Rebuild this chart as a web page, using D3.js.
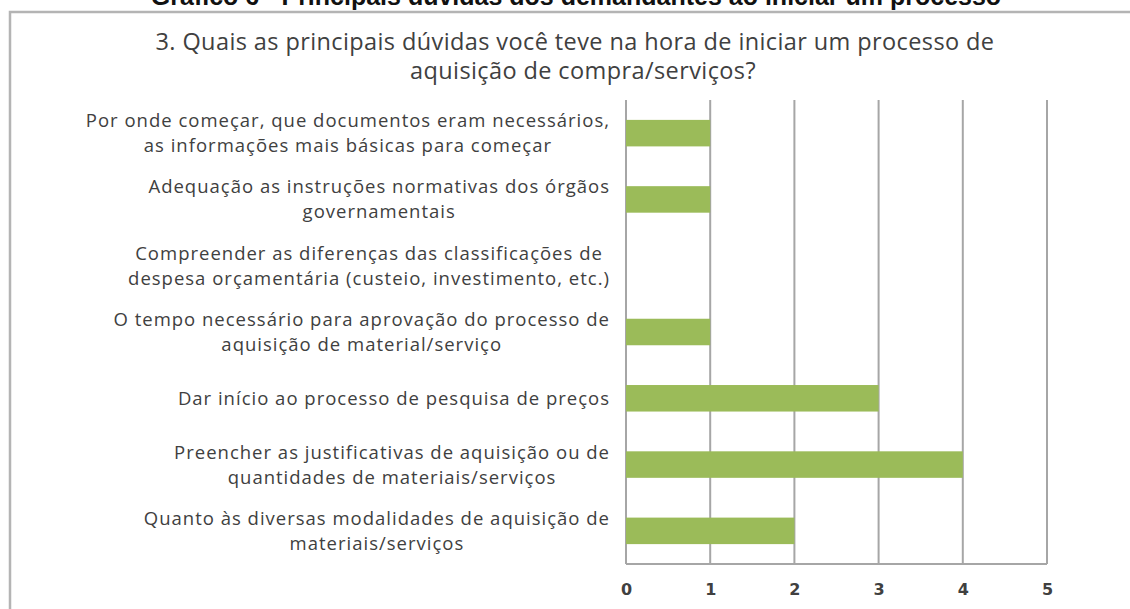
<!DOCTYPE html>
<html>
<head>
<meta charset="utf-8">
<script src="https://cdn.jsdelivr.net/npm/d3@7"></script>
<style>
  body { margin: 0; background: #fff; }
  svg { display: block; }
</style>
</head>
<body>
<script>
// chart data
const categories = [
  ["Por onde começar, que documentos eram necessários,", "as informações mais básicas para começar"],
  ["Adequação as instruções normativas dos órgãos", "governamentais"],
  ["Compreender as diferenças das classificações de", "despesa orçamentária (custeio, investimento, etc.)"],
  ["O tempo necessário para aprovação do processo de", "aquisição de material/serviço"],
  ["Dar início ao processo de pesquisa de preços"],
  ["Preencher as justificativas de aquisição ou de", "quantidades de materiais/serviços"],
  ["Quanto às diversas modalidades de aquisição de", "materiais/serviços"]
];
const values = [1, 1, 0, 1, 3, 4, 2];
const xTicks = [0, 1, 2, 3, 4, 5];
const caption = "Gráfico 6 - Principais dúvidas dos demandantes ao iniciar um processo";
const titleLines = [
  "3. Quais as principais dúvidas você teve na hora de iniciar um processo de",
  "aquisição de compra/serviços?"
];

const width = 1130, height = 609;
const margin = {left: 626, right: 83, top: 100, bottom: 45};
const barColor = "#9bbb59";
const gridColor = "#a6a6a6";
const textColor = "#404040";

const svg = d3.select("body").append("svg")
  .attr("width", width)
  .attr("height", height);

// outer frame of the chart object
svg.append("rect")
  .attr("x", 10).attr("y", 12)
  .attr("width", 1140).attr("height", 700)
  .attr("fill", "none")
  .attr("stroke", "#b4b4b4")
  .attr("stroke-width", 2.5);

// document caption, cut at the top like in the scan
svg.append("text")
  .attr("x", 576).attr("y", 5)
  .attr("text-anchor", "middle")
  .attr("font-family", "Liberation Sans, Arial, sans-serif")
  .attr("font-weight", "bold")
  .attr("font-size", 25)
  .attr("fill", "#111")
  .text(caption);

// chart title
svg.append("g").selectAll("text")
  .data(titleLines)
  .join("text")
  .attr("x", (d, i) => i === 0 ? 575 : 583)
  .attr("y", (d, i) => 50 + i * 29)
  .attr("text-anchor", "middle")
  .attr("font-family", "Open Sans, sans-serif")
  .attr("font-size", 23.5)
  .attr("letter-spacing", 0.4)
  .attr("fill", textColor)
  .text(d => d);

const x = d3.scaleLinear()
  .domain([0, 5])
  .range([margin.left, width - margin.right]);

const y = d3.scaleBand()
  .domain(d3.range(categories.length))
  .range([margin.top, height - margin.bottom])
  .paddingInner(0.6)
  .paddingOuter(0.3);

// vertical gridlines
svg.append("g").selectAll("line")
  .data(xTicks)
  .join("line")
  .attr("x1", d => x(d)).attr("x2", d => x(d))
  .attr("y1", margin.top).attr("y2", height - margin.bottom)
  .attr("stroke", gridColor)
  .attr("stroke-width", 2);

// bottom line of plot area
svg.append("line")
  .attr("x1", x(0)).attr("x2", x(5))
  .attr("y1", height - margin.bottom).attr("y2", height - margin.bottom)
  .attr("stroke", gridColor)
  .attr("stroke-width", 2);

// bars
svg.append("g").selectAll("rect")
  .data(values)
  .join("rect")
  .attr("x", x(0))
  .attr("y", (d, i) => y(i))
  .attr("width", d => x(d) - x(0))
  .attr("height", y.bandwidth())
  .attr("fill", barColor);

// x axis labels
const xAxis = svg.append("g")
  .attr("transform", `translate(0,${height - margin.bottom})`)
  .call(d3.axisBottom(x).tickValues(xTicks).tickFormat(d3.format("d")).tickSize(0).tickPadding(20));
xAxis.select(".domain").remove();
xAxis.selectAll("text")
  .attr("font-family", "DejaVu Sans, sans-serif")
  .attr("font-weight", "bold")
  .attr("font-size", 16)
  .attr("fill", textColor);

// category labels, wrapped and centred in a block right-aligned to the axis
const labelRight = 610;
const lineGap = 25;
const labels = svg.append("g").selectAll("text")
  .data(categories)
  .join("text")
  .attr("text-anchor", "middle")
  .attr("font-family", "Open Sans, sans-serif")
  .attr("font-size", 18.5)
  .attr("letter-spacing", 1)
  .attr("fill", textColor);

labels.each(function(lines, i) {
  const t = d3.select(this);
  const cy = y(i) + y.bandwidth() / 2;
  const y0 = cy - (lines.length - 1) * lineGap / 2;
  lines.forEach((line, k) => {
    t.append("tspan")
      .attr("y", y0 + k * lineGap)
      .attr("dy", "0.35em")
      .text(line);
  });
  let maxW = 0;
  t.selectAll("tspan").each(function() {
    maxW = Math.max(maxW, this.getComputedTextLength());
  });
  t.selectAll("tspan").attr("x", labelRight - maxW / 2);
});
</script>
</body>
</html>
